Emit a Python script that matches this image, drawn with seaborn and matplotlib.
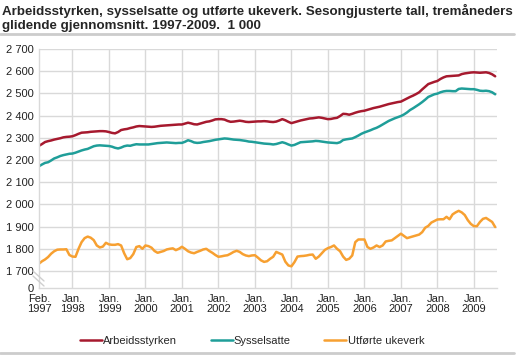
import numpy as np
import pandas as pd
import matplotlib
matplotlib.use("Agg")
import matplotlib.pyplot as plt
from matplotlib.lines import Line2D
import seaborn as sns

# monthly values, Feb 1997 - Aug 2009, 1 000 persons / ukeverk
arbeidsstyrken = [
    2264, 2272, 2281, 2285, 2288, 2292, 2295, 2298, 2302, 2304, 2305, 2307,
    2312, 2318, 2323, 2324, 2325, 2327, 2328, 2329, 2330, 2330, 2329, 2326,
    2322, 2320, 2326, 2335, 2338, 2340, 2344, 2347, 2351, 2353, 2352, 2351,
    2350, 2349, 2350, 2352, 2354, 2355, 2356, 2357, 2358, 2359, 2360, 2360,
    2364, 2368, 2365, 2361, 2360, 2364, 2368, 2372, 2374, 2378, 2383, 2384,
    2384, 2382, 2376, 2372, 2373, 2375, 2377, 2375, 2372, 2371, 2372, 2373,
    2374, 2374, 2375, 2374, 2372, 2371, 2373, 2378, 2384, 2379, 2372, 2366,
    2370, 2374, 2378, 2381, 2384, 2387, 2388, 2390, 2392, 2390, 2387, 2384,
    2385, 2388, 2390, 2398, 2408, 2407, 2404, 2408, 2413, 2417, 2420, 2422,
    2426, 2430, 2434, 2437, 2440, 2444, 2448, 2452, 2455, 2458, 2461, 2463,
    2470, 2477, 2484, 2490, 2497, 2505, 2518, 2530, 2542, 2547, 2552, 2556,
    2565, 2572, 2577, 2578, 2579, 2580, 2581, 2587, 2590, 2592, 2594, 2595,
    2594, 2593, 2594, 2595, 2592, 2586, 2577,
]
sysselsatte = [
    2172, 2180, 2187, 2190, 2198, 2207, 2212, 2218, 2222, 2225, 2228, 2229,
    2233, 2238, 2243, 2247, 2250, 2256, 2262, 2265, 2266, 2265, 2264, 2263,
    2260, 2255, 2252, 2256, 2262, 2265, 2264, 2268, 2271, 2270, 2270, 2270,
    2270, 2272, 2274, 2276, 2277, 2278, 2279, 2278, 2277, 2276, 2277, 2277,
    2282, 2289, 2285, 2279, 2277, 2278, 2281, 2283, 2285, 2288, 2291, 2293,
    2295, 2297, 2296, 2294, 2292, 2291, 2290, 2288, 2286, 2283, 2282, 2280,
    2278, 2276, 2274, 2273, 2272, 2270, 2272, 2276, 2280, 2276, 2270, 2265,
    2268, 2274, 2280, 2281, 2282, 2283, 2284, 2286, 2285, 2283, 2281, 2279,
    2278, 2277, 2276, 2280, 2290, 2293, 2295, 2297, 2303, 2310, 2318, 2324,
    2329, 2334, 2340, 2345, 2352, 2360, 2368, 2376, 2382, 2388, 2393, 2398,
    2405, 2414, 2425, 2433, 2442, 2451, 2461, 2472, 2484, 2490, 2496, 2499,
    2505, 2509, 2511, 2511, 2510, 2510, 2520, 2522, 2521, 2520, 2519, 2519,
    2516, 2512, 2511, 2512, 2510, 2505, 2496,
]
utforte_ukeverk = [
    1733, 1744, 1752, 1763, 1778, 1789, 1796, 1797, 1797, 1798, 1772, 1765,
    1764, 1800, 1830, 1848, 1855, 1850, 1839, 1815, 1806, 1810, 1827, 1820,
    1818, 1818, 1821, 1815, 1780, 1753, 1758, 1776, 1808, 1812, 1800, 1815,
    1812, 1805, 1790, 1782, 1786, 1790, 1797, 1800, 1802, 1794, 1800, 1809,
    1800, 1789, 1783, 1780, 1786, 1791, 1797, 1800, 1790, 1782, 1772, 1764,
    1766, 1769, 1771, 1778, 1786, 1791, 1786, 1776, 1770, 1767, 1770, 1771,
    1760, 1748, 1741, 1744, 1755, 1764, 1786, 1780, 1774, 1742, 1725, 1721,
    1740, 1765, 1767, 1768, 1770, 1773, 1774, 1755, 1765, 1780, 1795, 1803,
    1808, 1815, 1800, 1789, 1765, 1750, 1755, 1770, 1830, 1842, 1842, 1842,
    1808, 1800, 1806, 1815, 1808, 1815, 1833, 1836, 1838, 1848, 1858, 1868,
    1858, 1848, 1852, 1856, 1860, 1864, 1875, 1895, 1903, 1918, 1925, 1932,
    1933, 1933, 1944, 1933, 1955, 1964, 1971, 1964, 1952, 1929, 1912, 1902,
    1902, 1921, 1935, 1939, 1930, 1921, 1898,
]
series_names = ["Arbeidsstyrken", "Sysselsatte", "Utførte ukeverk"]
colors = ["#a6192e", "#1f9e99", "#f7a031"]

tick_labels = ["Feb.\n1997"] + [f"Jan.\n{y}" for y in range(1998, 2010)]
y_ticks = [1700, 1800, 1900, 2000, 2100, 2200, 2300, 2400, 2500, 2600, 2700]

months = np.arange(len(arbeidsstyrken))
df = pd.DataFrame({
    "month": np.tile(months, 3),
    "value": arbeidsstyrken + sysselsatte + utforte_ukeverk,
    "serie": np.repeat(series_names, len(months)),
})

sns.set_style("white")
plt.rcParams["font.family"] = ["Liberation Sans", "DejaVu Sans"]

fig = plt.figure(figsize=(5.22, 3.55), dpi=100)
ax = fig.add_axes([39 / 522, 1 - 288 / 355, 458 / 522, 239 / 355])

sns.lineplot(data=df, x="month", y="value", hue="serie", palette=colors,
             linewidth=1.8, ax=ax, legend=False)

y_bottom = 1623.4
ax.set_xlim(0, 150.6)
ax.set_ylim(y_bottom, 2700)

major_x = [0] + [11 + 12 * i for i in range(12)]
ax.set_xticks(major_x)
ax.set_xticklabels(tick_labels)
ax.set_xticks(months, minor=True)
ax.set_yticks([y_bottom] + y_ticks)
ax.set_yticklabels(["0"] + [f"{v // 1000} {v % 1000:03d}" for v in y_ticks])

grid_col = "#d9d9d9"
for v in y_ticks:
    ax.axhline(v, color=grid_col, lw=1, zorder=0)
for m in major_x[1:]:
    ax.axvline(m, color=grid_col, lw=1, zorder=0)

ax.tick_params(axis="both", which="major", length=0, labelsize=8,
               labelcolor="#222222")
ax.tick_params(axis="y", pad=4)
ax.tick_params(axis="x", pad=4)
ax.tick_params(axis="x", which="minor", direction="in", length=5,
               color="#c4c4c4", width=0.8)
for lab in ax.get_xticklabels():
    lab.set_linespacing(1.0)

for s in ["top", "right"]:
    ax.spines[s].set_visible(False)
for s in ["left", "bottom"]:
    ax.spines[s].set_color(grid_col)
    ax.spines[s].set_linewidth(1)
ax.set_xlabel("")
ax.set_ylabel("")

# axis break marks
for dy in (0, 5):
    fig.add_artist(Line2D([33 / 522, 44 / 522],
                          [1 - (271 + dy) / 355, 1 - (281 + dy) / 355],
                          color="#cfcfcf", lw=1))

fig.text(2 / 522, 1 - 4 / 355,
         "Arbeidsstyrken, sysselsatte og utførte ukeverk. Sesongjusterte tall, tremåneders\n"
         "glidende gjennomsnitt. 1997-2009.  1 000",
         ha="left", va="top", fontsize=9.6, fontweight="bold", linespacing=1.2)

fig.add_artist(Line2D([0, 514 / 522], [1 - 34 / 355] * 2, color="#cccccc", lw=2))
fig.add_artist(Line2D([0, 514 / 522], [1 - 353 / 355] * 2, color="#cccccc", lw=2))

handles = [Line2D([], [], color=c, lw=1.8) for c in colors]
fig.legend(handles, series_names, loc="center", ncol=3, frameon=False,
           bbox_to_anchor=(252 / 522, 1 - 341 / 355), fontsize=8,
           handlelength=2.0, handletextpad=0.1, columnspacing=3.0)

fig.savefig("out.png", dpi=100)
